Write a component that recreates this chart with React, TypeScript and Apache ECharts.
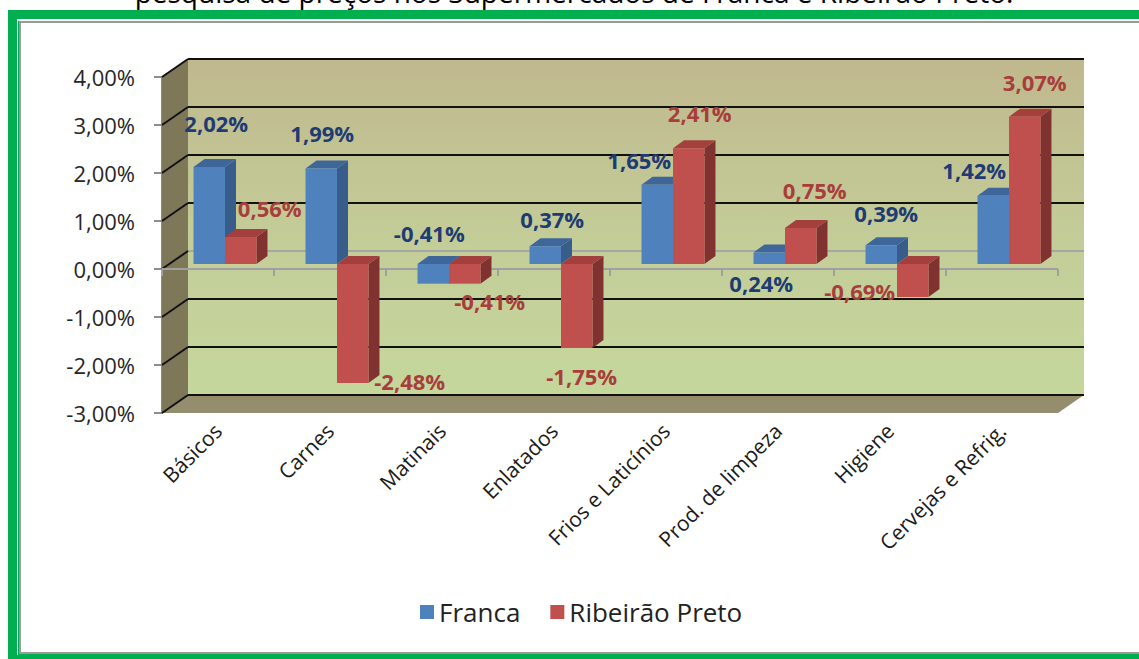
import React, { useEffect, useRef } from "react";
import * as echarts from "echarts";

const categories = [
  "Básicos",
  "Carnes",
  "Matinais",
  "Enlatados",
  "Frios e Laticínios",
  "Prod. de limpeza",
  "Higiene",
  "Cervejas e Refrig.",
];
const franca = [2.02, 1.99, -0.41, 0.37, 1.65, 0.24, 0.39, 1.42];
const ribeirao = [0.56, -2.48, -0.41, -1.75, 2.41, 0.75, -0.69, 3.07];
const seriesNames = ["Franca", "Ribeirão Preto"];
const yMin = -3;
const yMax = 4;
const yStep = 1;
const titleText = "pesquisa de preços nos Supermercados de Franca e Ribeirão Preto.";

// label nudges (px) relative to each bar's value end
const francaLabelNudge = [
  [7, -44], [1, -35], [-4, -51], [7, -27], [-18, -25], [-8, 31], [5, -32], [-19, -26],
];
const ribeiraoLabelNudge = [
  [29, -29], [57, -2], [25, 17], [5, 28], [11, -35], [14, -38], [-53, -6], [10, -35],
];

const FONT = '"Open Sans", "DejaVu Sans", sans-serif';
const WALL_DX = 26;
const WALL_DY = -18;
const BAR_SHIFT_X = 7;
const BAR_SHIFT_Y = -5;
const BAR_DX = 11;
const BAR_DY = -8;

const COLORS = [
  { front: "#4f81bd", side: "#385d8a", top: "#3e6699", label: "#1f3b73" },
  { front: "#c0504d", side: "#7f3230", top: "#a3403d", label: "#a83e3b" },
];

const fmt = (v: number) => v.toFixed(2).replace(".", ",") + "%";

export default function App() {
  const ref = useRef<HTMLDivElement>(null);
  useEffect(() => {
    if (!ref.current) return;
    const chart = echarts.init(ref.current, null, { renderer: "svg" });

    const wallRender = (params: any, api: any) => {
      const cs = params.coordSys;
      const gx = cs.x, gy = cs.y, gw = cs.width, gh = cs.height;
      const children: any[] = [];
      children.push({
        type: "rect",
        shape: { x: gx + WALL_DX, y: gy + WALL_DY, width: gw, height: gh },
        style: {
          fill: new echarts.graphic.LinearGradient(0, 0, 0, 1, [
            { offset: 0, color: "#c0b88e" },
            { offset: 0.55, color: "#c3cd98" },
            { offset: 1, color: "#c5d79c" },
          ]),
        },
      });
      children.push({
        type: "polygon",
        shape: {
          points: [
            [gx, gy],
            [gx + WALL_DX, gy + WALL_DY],
            [gx + WALL_DX, gy + gh + WALL_DY],
            [gx, gy + gh],
          ],
        },
        style: { fill: "#7e7859" },
      });
      children.push({
        type: "polygon",
        shape: {
          points: [
            [gx, gy + gh],
            [gx + WALL_DX, gy + gh + WALL_DY],
            [gx + gw + WALL_DX, gy + gh + WALL_DY],
            [gx + gw, gy + gh],
          ],
        },
        style: { fill: "#948d6e" },
      });
      for (let t = yMin; t <= yMax; t += yStep) {
        const y = api.coord([0, t])[1];
        const isZero = t === 0;
        const col = isZero ? "#a6a6a6" : "#111";
        children.push({
          type: "line",
          shape: { x1: gx + WALL_DX, y1: y + WALL_DY, x2: gx + gw + WALL_DX, y2: y + WALL_DY },
          style: { stroke: col, lineWidth: 2 },
        });
        children.push({
          type: "line",
          shape: { x1: gx, y1: y, x2: gx + WALL_DX, y2: y + WALL_DY },
          style: { stroke: "#111", lineWidth: 2 },
        });
      }
      // front zero axis with ticks
      const y0 = api.coord([0, 0])[1];
      children.push({
        type: "line",
        shape: { x1: gx, y1: y0, x2: gx + gw, y2: y0 },
        style: { stroke: "#a0a0a0", lineWidth: 2 },
      });
      const step = gw / categories.length;
      for (let i = 0; i <= categories.length; i++) {
        const x = gx + step * i;
        children.push({
          type: "line",
          shape: { x1: x, y1: y0, x2: x, y2: y0 + 7 },
          style: { stroke: "#a0a0a0", lineWidth: 2 },
        });
      }
      return { type: "group", children };
    };

    const barRender = (s: number) => (params: any, api: any) => {
      const idx = api.value(0);
      const v = api.value(1);
      const [cx, yz] = api.coord([idx, 0]);
      const yv = api.coord([idx, v])[1];
      const bw = api.size([1, 0])[0] * 0.281;
      const left = cx + BAR_SHIFT_X - bw + s * bw;
      const right = left + bw;
      const top = Math.min(yz, yv) + BAR_SHIFT_Y;
      const bottom = Math.max(yz, yv) + BAR_SHIFT_Y;
      const c = COLORS[s];
      return {
        type: "group",
        children: [
          {
            type: "polygon",
            shape: {
              points: [
                [right, top],
                [right + BAR_DX, top + BAR_DY],
                [right + BAR_DX, bottom + BAR_DY],
                [right, bottom],
              ],
            },
            style: { fill: c.side },
          },
          {
            type: "polygon",
            shape: {
              points: [
                [left, top],
                [left + BAR_DX, top + BAR_DY],
                [right + BAR_DX, top + BAR_DY],
                [right, top],
              ],
            },
            style: { fill: c.top },
          },
          {
            type: "rect",
            shape: { x: left, y: top, width: bw, height: bottom - top },
            style: { fill: c.front },
          },
        ],
      };
    };

    const labelRender = (s: number, nudges: number[][]) => (params: any, api: any) => {
      const idx = api.value(0);
      const v = api.value(1);
      const [cx] = api.coord([idx, 0]);
      const yv = api.coord([idx, v])[1];
      const bw = api.size([1, 0])[0] * 0.281;
      const left = cx + BAR_SHIFT_X - bw + s * bw;
      const center = left + bw / 2;
      const endY = yv + BAR_SHIFT_Y;
      const n = nudges[params.dataIndex];
      return {
        type: "text",
        x: center + n[0],
        y: endY + n[1],
        style: {
          text: fmt(v),
          fill: COLORS[s].label,
          font: `bold 22px ${FONT}`,
          align: "center",
          verticalAlign: "middle",
        },
      };
    };

    const fData = franca.map((v, i) => [i, v]);
    const rData = ribeirao.map((v, i) => [i, v]);

    chart.setOption({
      animation: false,
      backgroundColor: "#ffffff",
      graphic: [
        { type: "rect", z: -10, shape: { x: 8, y: 10, width: 1300, height: 700 }, style: { fill: "#00b050" }, silent: true },
        { type: "rect", z: -10, shape: { x: 17, y: 19, width: 1300, height: 636 }, style: { fill: "#ffffff" }, silent: true },
        { type: "rect", z: -10, shape: { x: 18, y: 21, width: 1300, height: 634 }, style: { fill: "#00b050" }, silent: true },
        { type: "rect", z: -10, shape: { x: 19, y: 21, width: 1300, height: 633 }, style: { fill: "#9a9a9a" }, silent: true },
        { type: "rect", z: -10, shape: { x: 21, y: 23, width: 1300, height: 629 }, style: { fill: "#ffffff" }, silent: true },
        {
          type: "text",
          z: -5,
          x: 574,
          y: -8,
          style: {
            text: titleText,
            font: `28px ${FONT}`,
            fill: "#000",
            align: "center",
            verticalAlign: "middle",
          },
        },
      ],
      grid: { left: 162, top: 77, width: 896, height: 336, containLabel: false },
      legend: {
        left: 415,
        top: 594,
        itemWidth: 14,
        itemHeight: 14,
        itemGap: 30,
        icon: "rect",
        data: seriesNames,
        textStyle: { fontSize: 26, color: "#222", fontFamily: FONT },
      },
      xAxis: {
        type: "category",
        data: categories,
        axisLine: { show: false },
        axisTick: { show: false },
        splitLine: { show: false },
        axisLabel: {
          rotate: 45,
          margin: 14,
          fontSize: 21,
          color: "#1a1a1a",
          fontFamily: FONT,
          interval: 0,
        },
      },
      yAxis: {
        type: "value",
        min: yMin,
        max: yMax,
        interval: yStep,
        axisLine: { show: true, lineStyle: { color: "#8c8c8c", width: 2 } },
        axisTick: { show: true, length: 8, lineStyle: { color: "#8c8c8c", width: 2 } },
        splitLine: { show: false },
        axisLabel: {
          formatter: (v: number) => fmt(v),
          fontSize: 22,
          color: "#262626",
          fontFamily: FONT,
          margin: 27,
        },
      },
      series: [
        {
          type: "custom",
          name: "walls",
          z: 1,
          renderItem: wallRender,
          data: [[0, 0]],
          silent: true,
        },
        {
          type: "custom",
          name: seriesNames[0],
          z: 3,
          itemStyle: { color: COLORS[0].front },
          renderItem: barRender(0),
          data: fData,
          encode: { x: 0, y: 1 },
        },
        {
          type: "custom",
          name: seriesNames[1],
          z: 4,
          itemStyle: { color: COLORS[1].front },
          renderItem: barRender(1),
          data: rData,
          encode: { x: 0, y: 1 },
        },
        {
          type: "custom",
          name: "lblF",
          z: 6,
          renderItem: labelRender(0, francaLabelNudge),
          data: fData,
          encode: { x: 0, y: 1 },
        },
        {
          type: "custom",
          name: "lblR",
          z: 6,
          renderItem: labelRender(1, ribeiraoLabelNudge),
          data: rData,
          encode: { x: 0, y: 1 },
        },
      ],
    });
    return () => chart.dispose();
  }, []);
  return (
    <div
      ref={ref}
      style={{ position: "fixed", left: 0, top: 0, width: 1139, height: 659 }}
    />
  );
}
